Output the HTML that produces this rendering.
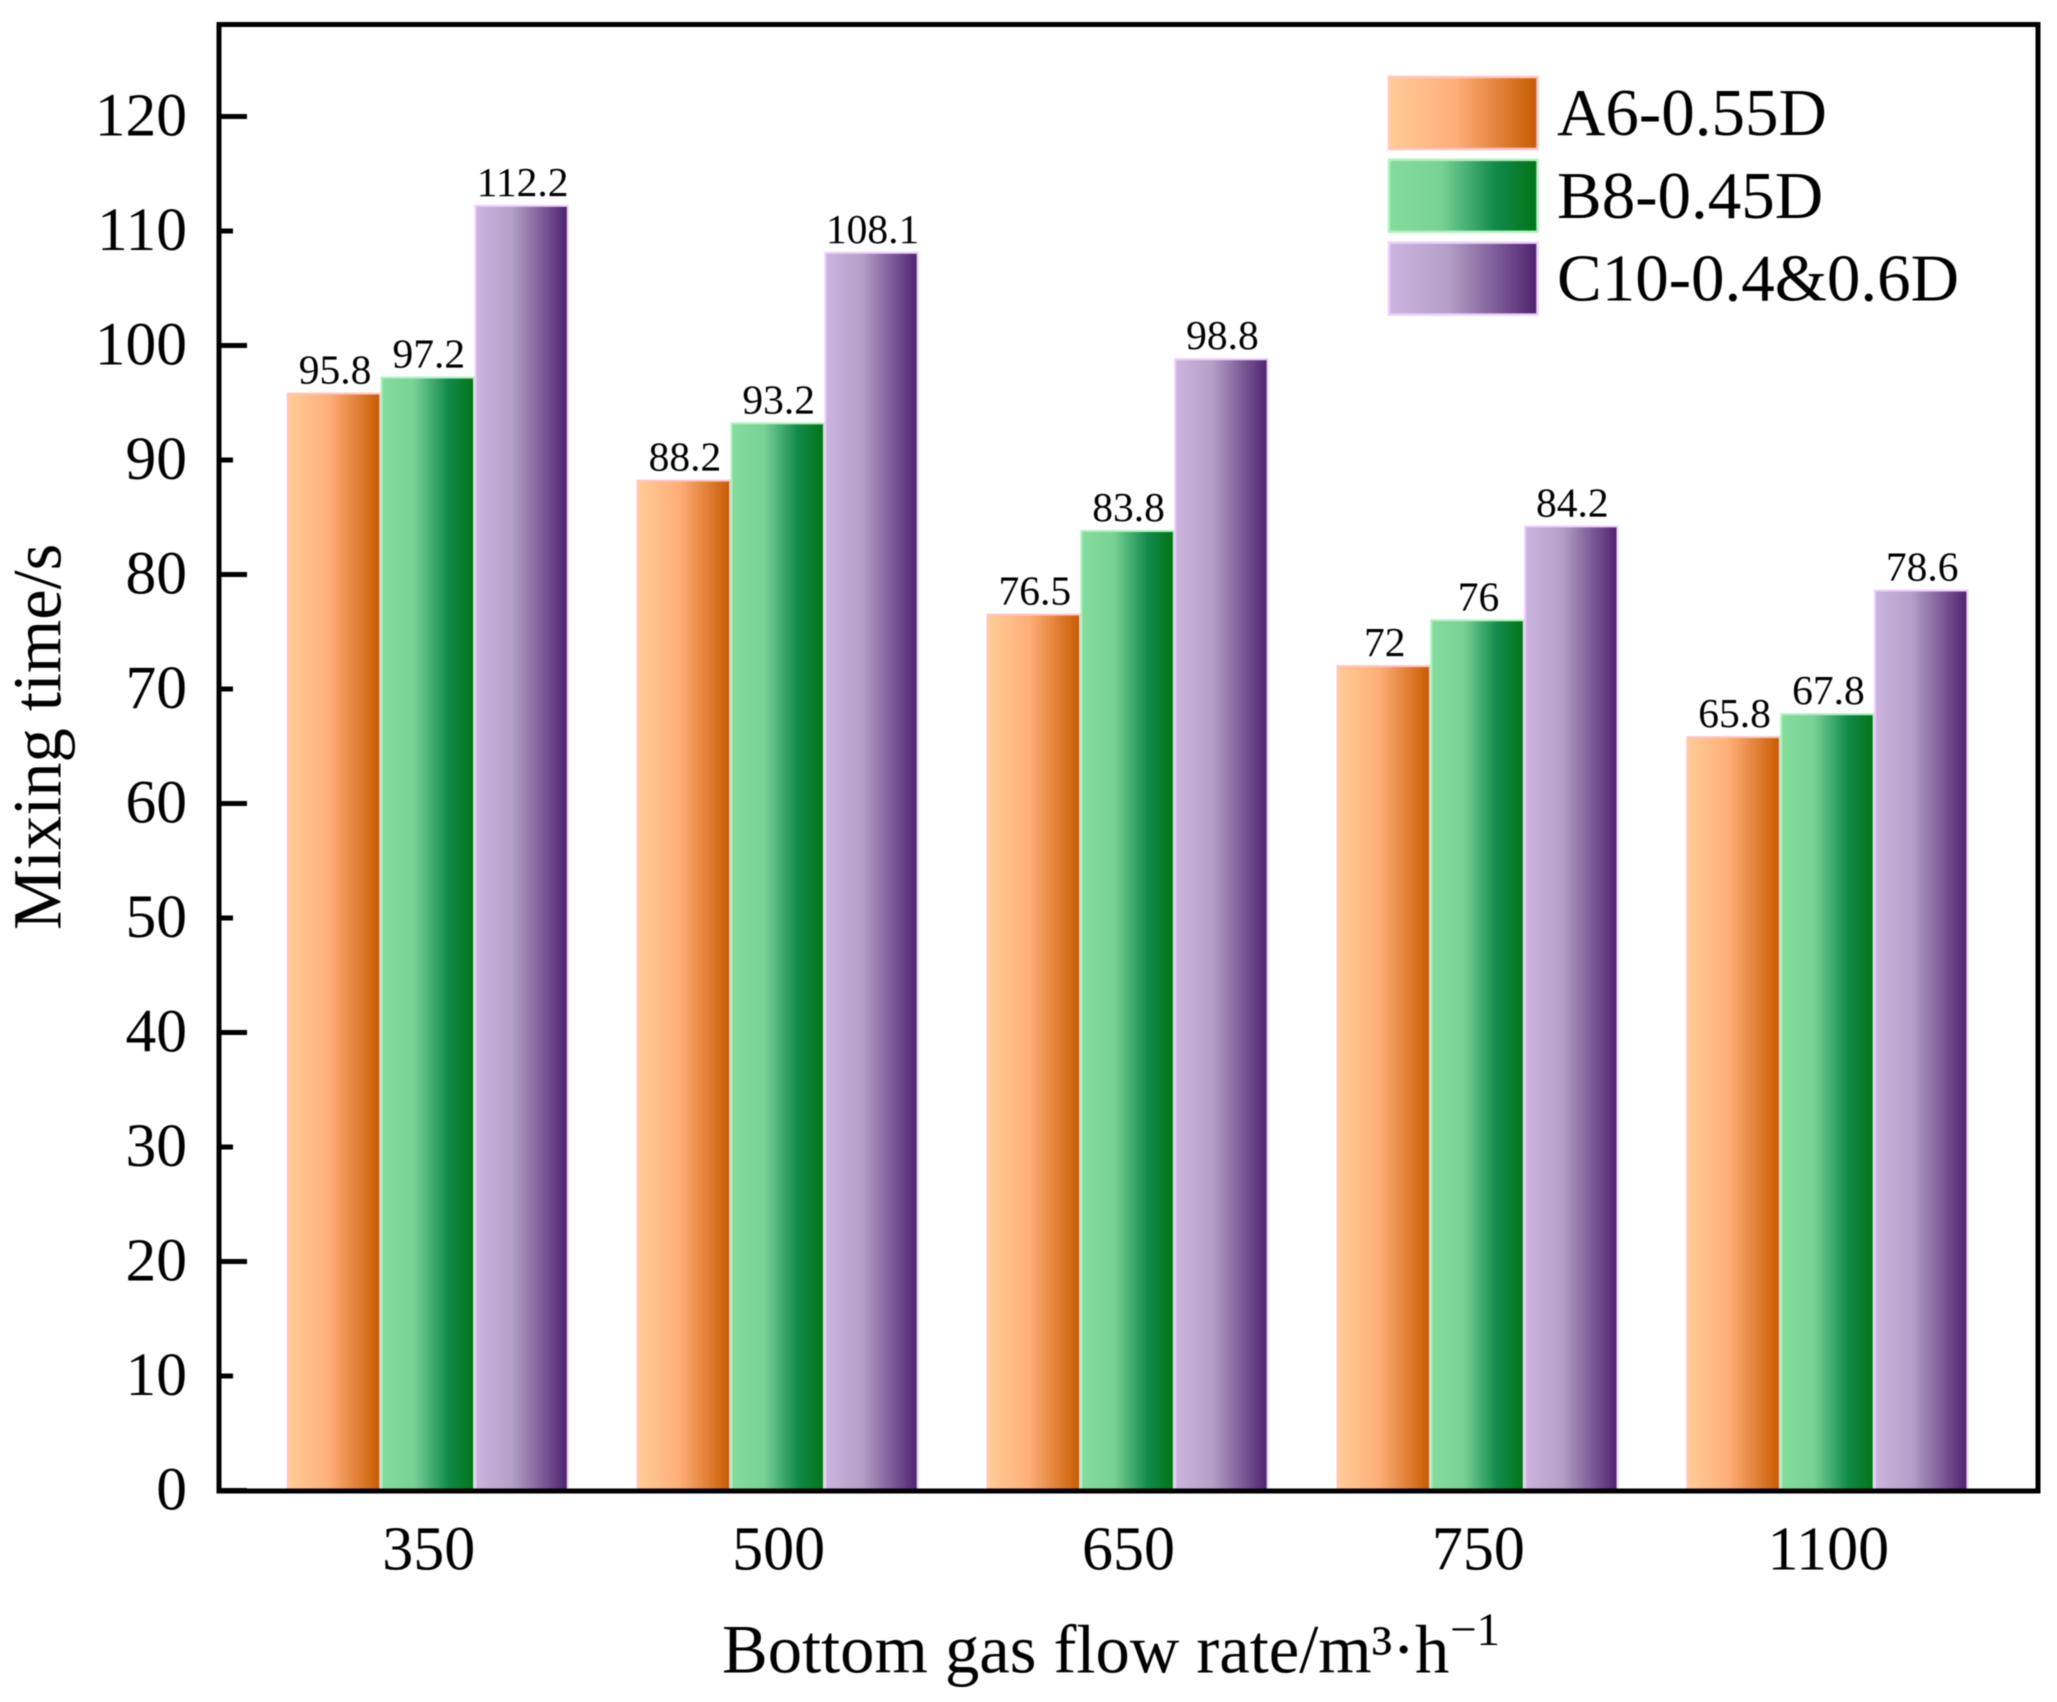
<!DOCTYPE html>
<html>
<head>
<meta charset="utf-8">
<title>Mixing time chart</title>
<style>
html,body{margin:0;padding:0;background:#fff;width:2057px;height:1702px;overflow:hidden}
svg{display:block;filter:blur(0.6px)}
text{font-family:"Liberation Serif","DejaVu Serif",serif;fill:#000}
</style>
</head>
<body>
<svg id="chart" xmlns="http://www.w3.org/2000/svg" width="2057" height="1702" viewBox="0 0 2057 1702">
<defs>
<linearGradient id="grad-a" x1="0" x2="1" y1="0" y2="0"><stop offset="0" stop-color="#ffcc96"/><stop offset="0.45" stop-color="#ffae78"/><stop offset="1" stop-color="#c85a00"/></linearGradient>
<linearGradient id="grad-b" x1="0" x2="1" y1="0" y2="0"><stop offset="0" stop-color="#84dd9c"/><stop offset="0.35" stop-color="#78d296"/><stop offset="0.72" stop-color="#118a4a"/><stop offset="1" stop-color="#007414"/></linearGradient>
<linearGradient id="grad-c" x1="0" x2="1" y1="0" y2="0"><stop offset="0" stop-color="#ccb4de"/><stop offset="0.4" stop-color="#b4a0c6"/><stop offset="1" stop-color="#4e2170"/></linearGradient>
</defs>
<rect x="0" y="0" width="2057" height="1702" fill="#fff"/>
<g id="bars"></g>
<g id="labels"></g>
<g id="frame"></g>
<g id="yticks"></g>
<g id="xticks"></g>
<g id="legend"></g>
<text transform="translate(60.5,930) rotate(-90)" font-size="68.5">Mixing time/s</text>
<text x="722" y="1672.5" font-size="68.6">Bottom gas flow rate/m³·h</text>
<text x="1450" y="1645" font-size="47">−1</text>
</svg>
<script>
const categories = ['350', '500', '650', '750', '1100'];
const seriesNames = ['A6-0.55D', 'B8-0.45D', 'C10-0.4&0.6D'];
const seriesA = [95.8, 88.2, 76.5, 72, 65.8];
const seriesB = [97.2, 93.2, 83.8, 76, 67.8];
const seriesC = [112.2, 108.1, 98.8, 84.2, 78.6];
const yTickValues = [0, 10, 20, 30, 40, 50, 60, 70, 80, 90, 100, 110, 120];

const NS = 'http://www.w3.org/2000/svg';
const fills = ['url(#grad-a)', 'url(#grad-b)', 'url(#grad-c)'];
const strokes = ['#ffc4c4', '#b4f0c0', '#ecd0fa'];
const allSeries = [seriesA, seriesB, seriesC];

function yScale(v) { return 1490.5 - v * 11.45; }
function xBand(catIndex, seriesIndex) { return 287 + catIndex * 349.9 + seriesIndex * 93.8; }
function xCenter(catIndex) { return xBand(catIndex, 1) + 93.8 / 2; }
function make(tag, attrs, parent) {
  const el = document.createElementNS(NS, tag);
  for (const k in attrs) el.setAttribute(k, attrs[k]);
  parent.appendChild(el);
  return el;
}

const barsG = document.getElementById('bars');
const labelsG = document.getElementById('labels');
allSeries.forEach(function (vals, s) {
  vals.forEach(function (v, c) {
    const x = xBand(c, s);
    const y = yScale(v);
    const r = make('rect', { x: x + 0.8, y: y, width: 92.4, height: yScale(0) - y, fill: fills[s], stroke: strokes[s], 'stroke-width': 2 }, barsG);
    
    
    const t = make('text', { x: x + 48, y: y - 10, 'font-size': 41.5, 'text-anchor': 'middle' }, labelsG);
    t.textContent = String(v);
    
    
  });
});

const frameG = document.getElementById('frame');
const frameRect = make('rect', { x: 219, y: 24.5, width: 1819, height: 1466.5, fill: 'none', stroke: '#000', 'stroke-width': 5 }, frameG);



const yG = document.getElementById('yticks');
yTickValues.forEach(function (v) {
  const y = yScale(v);
  const len = v % 20 === 0 ? 28 : 14;
  const l = make('line', { x1: 219, x2: 219 + len, y1: y, y2: y, stroke: '#000', 'stroke-width': 5 }, yG);
  
  
  const t = make('text', { x: 187, y: y + 19, 'font-size': 61.5, 'text-anchor': 'end' }, yG);
  t.textContent = String(v);
  
  
});

const xG = document.getElementById('xticks');
categories.forEach(function (c, i) {
  const t = make('text', { x: xCenter(i) + 1, y: 1569.5, 'font-size': 62, 'text-anchor': 'middle' }, xG);
  t.textContent = c;
  
  
});

const legendG = document.getElementById('legend');
seriesNames.forEach(function (n, i) {
  const top = 77 + i * 82.8;
  const r = make('rect', { x: 1389, y: top, width: 148.5, height: 72, fill: fills[i], stroke: strokes[i], 'stroke-width': 2.5 }, legendG);
  
  
  const t = make('text', { x: 1557, y: top + 58, 'font-size': 67 }, legendG);
  t.textContent = n;
  
  
});
</script>
</body>
</html>
